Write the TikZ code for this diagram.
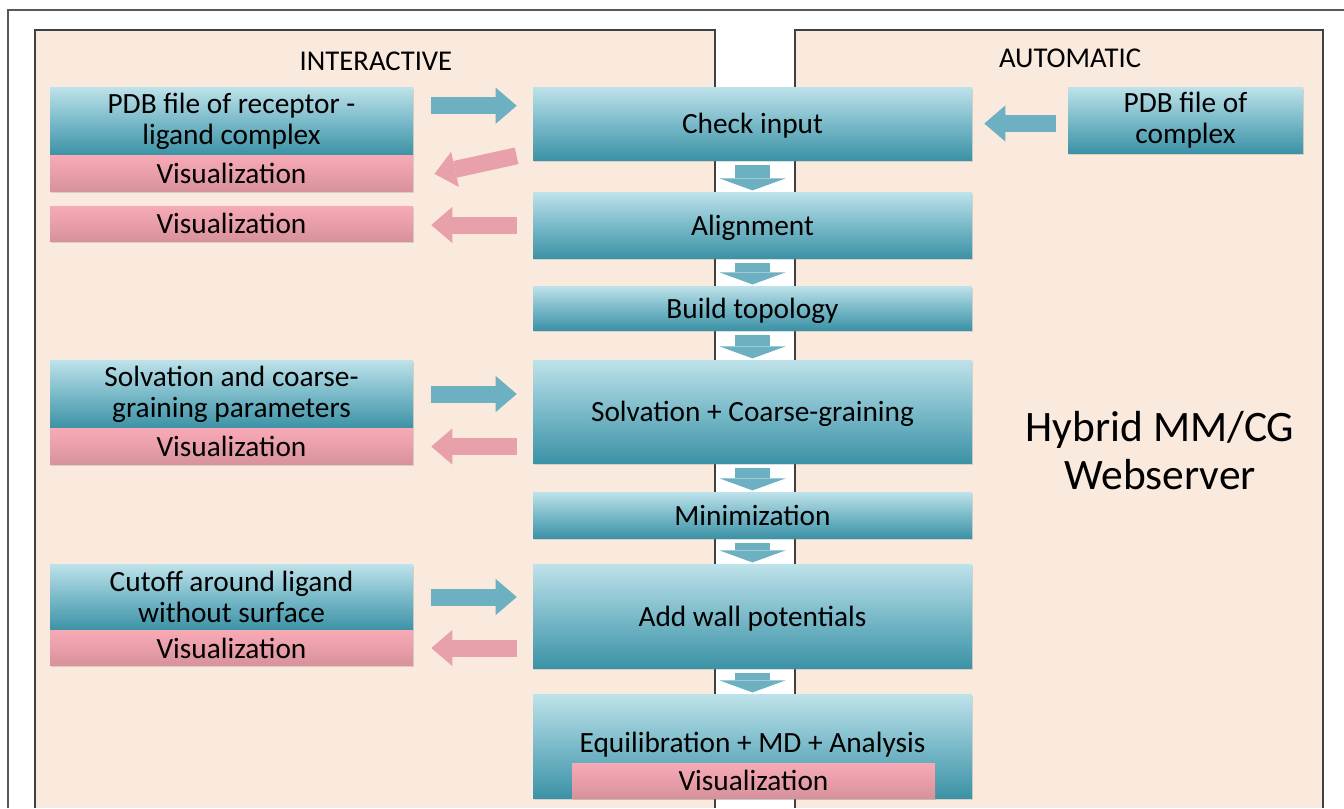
\documentclass[tikz,border=0pt]{standalone}
\usepackage{fontspec}
\setmainfont{Carlito}
\usetikzlibrary{positioning,arrows.meta,shadows}
\definecolor{peche}{RGB}{250,233,221}
\definecolor{cadre}{RGB}{64,64,64}
\definecolor{tealhaut}{RGB}{190,226,234}
\definecolor{tealmilieu}{RGB}{122,186,201}
\definecolor{tealbas}{RGB}{60,146,166}
\definecolor{rosehaut}{RGB}{247,170,181}
\definecolor{rosemilieu}{RGB}{233,158,169}
\definecolor{rosebas}{RGB}{214,146,155}
\definecolor{flechebleue}{RGB}{108,176,194}
\definecolor{flecherose}{RGB}{232,160,171}
\begin{document}
\begin{tikzpicture}[x=0.75pt,y=-0.75pt,
    boite/.style={rectangle, inner sep=0pt, align=center,
        font=\fontsize{22}{23.25}\selectfont,
        top color=tealhaut, bottom color=tealbas, middle color=tealmilieu,
        drop shadow={opacity=0.25, shadow xshift=1pt, shadow yshift=-1.2pt}},
    principale/.style={boite, minimum width=329.25pt, text height=16pt, text depth=1pt},
    gauche/.style={boite, minimum width=272.25pt},
    visu/.style={boite, minimum width=272.25pt,
        top color=rosehaut, bottom color=rosebas, middle color=rosemilieu},
    entree/.style={line width=12.75pt, draw=flechebleue,
        -{Triangle[length=15.75pt, width=27pt, line width=0pt]},
        shorten <=13.5pt, shorten >=12pt},
    sortie/.style={line width=12.75pt, draw=flecherose,
        -{Triangle[length=15.75pt, width=27pt, line width=0pt]},
        shorten <=12pt, shorten >=13.5pt},
    descente/.style={line width=26pt, draw=flechebleue,
        -{Triangle[length=9pt, width=49.5pt, line width=0pt]},
        shorten <=3.75pt, shorten >=1pt}]
    % Fond et cadre
    \fill[white] (0,0) rectangle (1344,808);
    \useasboundingbox (0,0) rectangle (1344,808);
    \draw[black!65, line width=1pt] (8,808) -- (8,10) -- (1344,10);
    % Panneaux
    \fill[peche] (35,30) rectangle (715,808);
    \fill[peche] (795,30) rectangle (1323,808);
    \draw[cadre, line width=1.5pt] (35,808) -- (35,30) -- (715,30) -- (715,808);
    \draw[cadre, line width=1.5pt] (795,808) -- (795,30) -- (1323,30) -- (1323,808);
    \node (interactif) at (376,61) {\fontsize{21.5}{24}\selectfont INTERACTIVE};
    \node (automatique) at (1070,58.5) {\fontsize{21.5}{24}\selectfont AUTOMATIC};
    \node[align=center, font=\fontsize{32.6}{36}\selectfont] (titre) at (1160,451)
        {Hybrid MM/CG\\Webserver};
    % Colonne centrale
    \node[principale, minimum height=54.75pt] (check) at (752.5,123.5) {Check input};
    \node[principale, minimum height=49.5pt] (align) at (752.5,225) {Alignment};
    \node[principale, minimum height=33pt] (topo) at (752.5,308) {Build topology};
    \node[principale, minimum height=77.25pt] (solv) at (752.5,411.5) {Solvation + Coarse-graining};
    \node[principale, minimum height=34.5pt] (mini) at (752.5,515) {Minimization};
    \node[principale, minimum height=78pt] (wall) at (752.5,616) {Add wall potentials};
    \node[principale, minimum height=78pt, text height=17pt, text depth=8pt] (equi) at (752.5,746)
        {Equilibration + MD + Analysis};
    \node[visu, minimum height=26.25pt] (equivis) at (753.5,780.5) {Visualization};
    % Colonne gauche
    \node[gauche, minimum height=51pt] (pdb) at (231.5,121) {PDB file of receptor -\\ligand complex};
    \node[visu, minimum height=27pt, below=0pt of pdb] (pdbvis) {Visualization};
    \node[visu, minimum height=26.25pt] (vis2) at (231.5,223.5) {Visualization};
    \node[gauche, minimum height=51pt] (solvp) at (231.5,394) {Solvation and coarse-\\graining parameters};
    \node[visu, minimum height=27pt, below=0pt of solvp] (solvvis) {Visualization};
    \node[gauche, minimum height=49.5pt] (cut) at (231.5,597) {Cutoff around ligand\\without surface};
    \node[visu, minimum height=26.25pt, below=0pt of cut] (cutvis) {Visualization};
    % Colonne droite
    \node[boite, minimum width=176.25pt, minimum height=49.5pt] (pdbc) at (1185.5,120) {PDB file of\\complex};
    % Fleches
    \coordinate (pdbsortie) at ([yshift=-14.25pt]pdb.north east);
    \draw[entree] (pdbsortie) -- (pdbsortie -| check.west);
    \coordinate (checksortie) at ([yshift=6pt]check.south west);
    \coordinate (visentree) at ([yshift=-3.75pt]pdbvis.east);
    \draw[sortie, shorten <=12.4pt, shorten >=16.3pt] (checksortie) -- (visentree);
    \draw[sortie] (align.west) -- (align.west -| vis2.east);
    \draw[entree] (solvp.east) -- (solvp.east -| solv.west);
    \draw[sortie] (solvvis.east -| solv.west) -- (solvvis.east);
    \draw[entree] (cut.east) -- (cut.east -| wall.west);
    \draw[sortie] (cutvis.east -| wall.west) -- (cutvis.east);
    \draw[entree, shorten <=9pt, shorten >=9pt] (check.east -| pdbc.west) -- (check.east);
    \foreach \a/\b in {check/align, align/topo, topo/solv, solv/mini, mini/wall, wall/equi}
        \draw[descente] (\a.south) -- (\b.north);
\end{tikzpicture}
\end{document}
